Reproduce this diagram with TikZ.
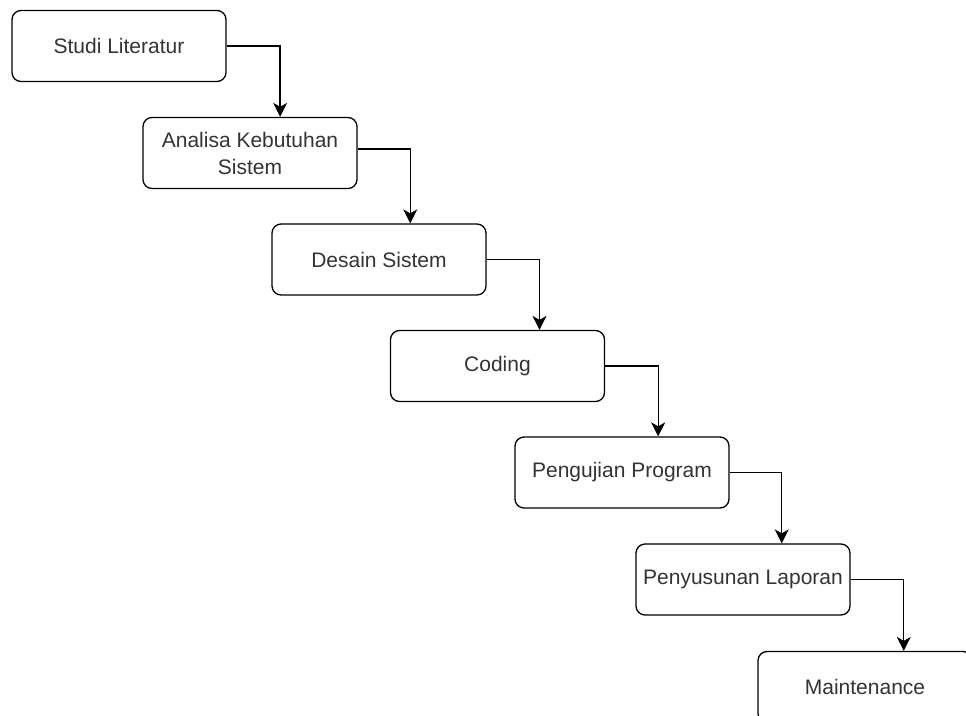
\documentclass[tikz,border=0pt]{standalone}
\usepackage{fontspec}
\setmainfont{Liberation Sans}
\usetikzlibrary{arrows.meta,calc}
\tikzset{
  tahap/.style={draw, rounded corners=9pt, line width=1.3pt, minimum width=214pt, minimum height=71pt, inner sep=2pt, align=center, text=black!80, font=\fontsize{21}{27}\selectfont},
  panah/.style={-{Stealth[length=14pt,width=14pt,inset=4pt]}, line width=1.3pt},
}
\begin{document}
\begin{tikzpicture}[x=1pt, y=-1pt]
    \useasboundingbox (0,0) rectangle (966,715);
    \clip (0,0) rectangle (966,715);
    %
    \node[tahap] (studi) at (119,46) {Studi Literatur};
    %
    \node[tahap] (analisa) at (250,153) {Analisa Kebutuhan\\Sistem};
    %
    \node[tahap] (desain) at (379,259.5) {Desain Sistem};
    %
    \node[tahap] (coding) at (497.5,366) {Coding};
    %
    \node[tahap] (uji) at (622,472.5) {Pengujian Program};
    %
    \node[tahap] (laporan) at (743,579.5) {Penyusunan Laporan};
    %
    \node[tahap] (maint) at (865,687) {Maintenance};
    %%%%%%%%%%%%%%%%%%%%%%
    \draw[panah] (studi.east) -| ($(analisa.north west)!0.64!(analisa.north east)$);
    %
    \draw[panah] ([yshift=4pt]analisa.east) -| ($(desain.north west)!0.645!(desain.north east)$);
    %
    \draw[panah] (desain.east) -| ($(coding.north west)!0.695!(coding.north east)$);
    %
    \draw[panah] (coding.east) -| ($(uji.north west)!0.668!(uji.north east)$);
    %
    \draw[panah] (uji.east) -| ($(laporan.north west)!0.68!(laporan.north east)$);
    %
    \draw[panah] (laporan.east) -| ($(maint.north west)!0.68!(maint.north east)$);
\end{tikzpicture}
\end{document}
